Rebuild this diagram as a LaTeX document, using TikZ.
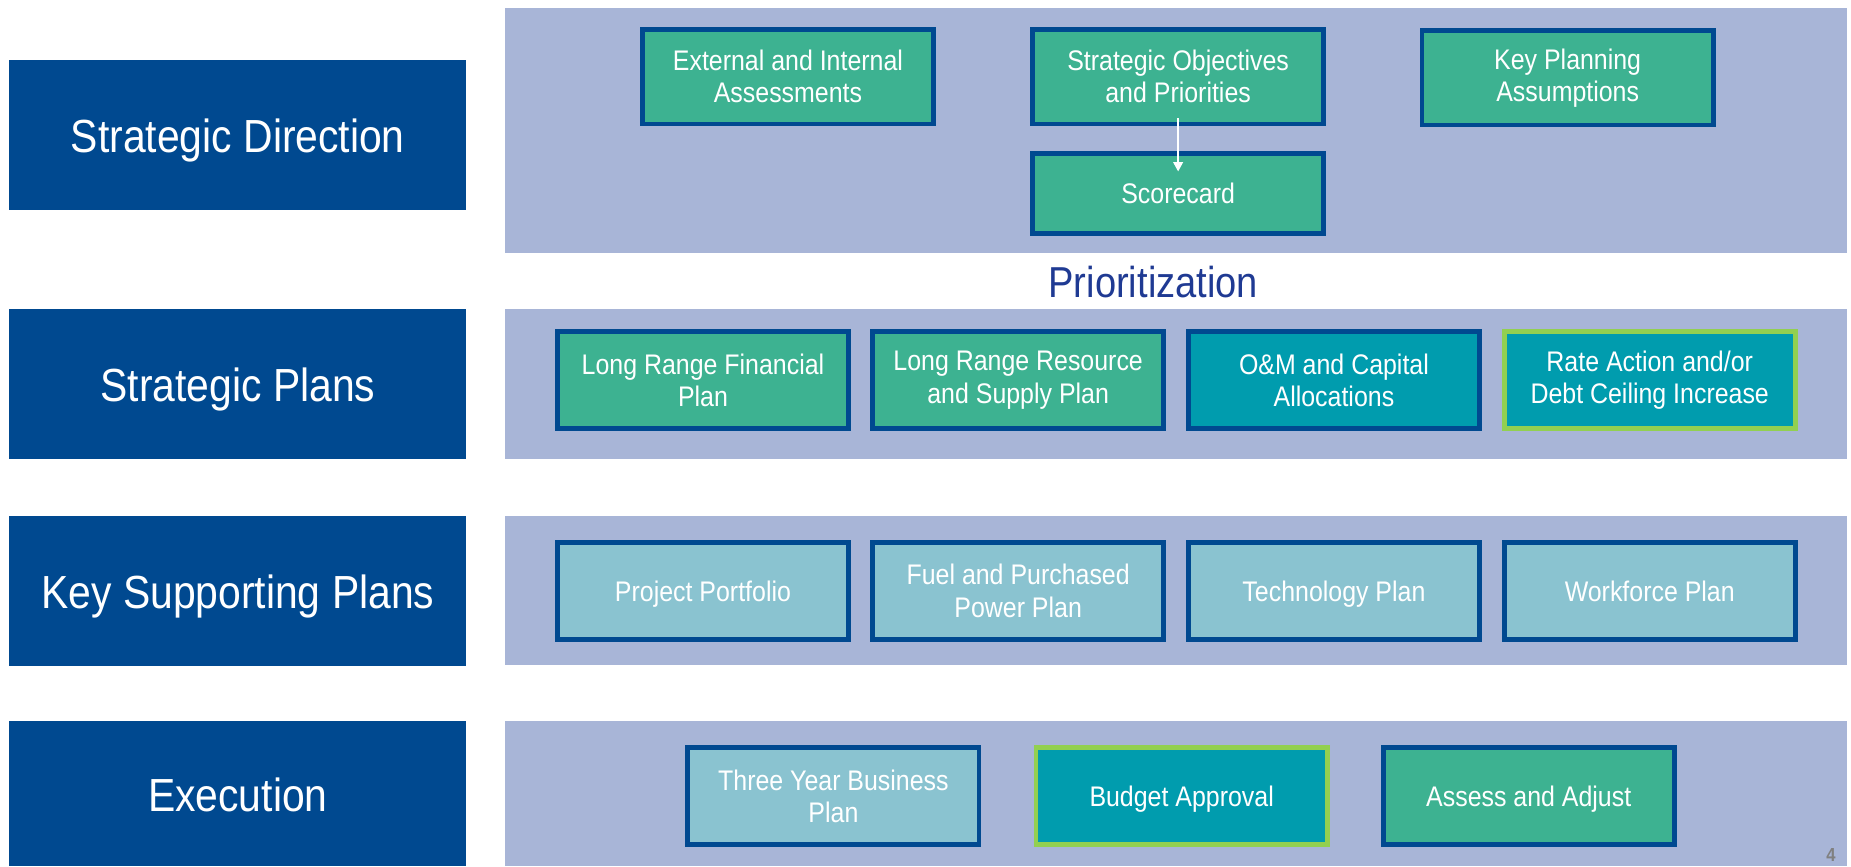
\documentclass[tikz,border=0pt]{standalone}
\usepackage{fontspec}
\setmainfont{Liberation Sans}[FakeStretch=0.88]
\usetikzlibrary{arrows.meta}
\definecolor{navy}{HTML}{004990}
\definecolor{panel}{HTML}{A8B5D7}
\definecolor{green1}{HTML}{3DB291}
\definecolor{teal1}{HTML}{009CAE}
\definecolor{light1}{HTML}{8AC3D0}
\definecolor{lime}{HTML}{92D050}
\definecolor{titleblue}{HTML}{1F3A93}
\tikzset{
  lbl/.style={fill=navy, text=white, minimum width=290.25pt, minimum height=95.25pt, inner sep=0pt, text height=22pt, text depth=0pt, font=\fontsize{29.5}{32}\selectfont},
  pnl/.style={fill=panel, minimum width=852.75pt, inner sep=0pt},
  card/.style={draw=navy, line width=3pt, text=white, minimum width=185pt, minimum height=60pt, inner sep=2pt, align=center, font=\fontsize{18}{20.5}\selectfont},
  gcard/.style={card, fill=green1},
  tcard/.style={card, fill=teal1},
  lcard/.style={card, fill=light1},
  limecard/.style={card, draw=lime, fill=teal1},
  one/.style={text height=13pt, text depth=0pt},
}
\begin{document}
\begin{tikzpicture}[x=0.75pt, y=-0.75pt]
\useasboundingbox (0,0) rectangle (1568,734);
% panels
\node[pnl, minimum height=155.25pt] (p1) at (996.5,110.5) {};
\node[pnl, minimum height=95.25pt] (p2) at (996.5,325.5) {};
\node[pnl, minimum height=94.5pt] (p3) at (996.5,500) {};
\node[pnl, minimum height=92.25pt] (p4) at (996.5,672.5) {};
% left labels
\node[lbl] (l1) at (201.5,114.5) {Strategic Direction};
\node[lbl] (l2) at (201.5,325.5) {Strategic Plans};
\node[lbl] (l3) at (201.5,500.5) {Key Supporting Plans};
\node[lbl, minimum height=92.25pt] (l4) at (201.5,672.5) {Execution};
% row 1
\node[gcard] (ext) at (667.5,65) {External and Internal\\Assessments};
\node[gcard] (so) at (998,65) {Strategic Objectives\\and Priorities};
\node[gcard] (kp) at (1328,66) {Key Planning\\Assumptions};
\node[gcard, one, minimum height=51pt] (sc) at (998,164) {Scorecard};
\draw[white, line width=1.5pt, -{Triangle[length=6pt,width=6pt]}] ([yshift=5pt]so.south) -- ([yshift=-13pt]sc.north);
% prioritization
\node[text=titleblue, font=\fontsize{27.5}{30}\selectfont] (prio) at (977,239) {Prioritization};
% row 2
\node[gcard, minimum height=61.5pt] (lrf) at (595.5,322) {Long Range Financial\\Plan};
\node[gcard, minimum height=61.5pt] (lrr) at (862.5,322) {Long Range Resource\\and Supply Plan};
\node[tcard, minimum height=61.5pt] (om) at (1130,322) {O\&M and Capital\\Allocations};
\node[limecard, minimum height=61.5pt] (rate) at (1397.5,322) {Rate Action and/or\\Debt Ceiling Increase};
% row 3
\node[lcard, one, minimum height=61.5pt] (pp) at (595.5,500.5) {Project Portfolio};
\node[lcard, minimum height=61.5pt] (fuel) at (862.5,500.5) {Fuel and Purchased\\Power Plan};
\node[lcard, one, minimum height=61.5pt] (tech) at (1130,500.5) {Technology Plan};
\node[lcard, one, minimum height=61.5pt] (wf) at (1397.5,500.5) {Workforce Plan};
% row 4
\node[lcard, minimum height=61.5pt] (three) at (706,674.5) {Three Year Business\\Plan};
\node[limecard, one, minimum height=61.5pt] (budget) at (1001,674.5) {Budget Approval};
\node[gcard, one, minimum height=61.5pt] (assess) at (1295,674.5) {Assess and Adjust};
% page number
\node[text=gray, font=\fontsize{12}{13}\bfseries\selectfont] (pg) at (1551,724) {4};
\end{tikzpicture}
\end{document}
